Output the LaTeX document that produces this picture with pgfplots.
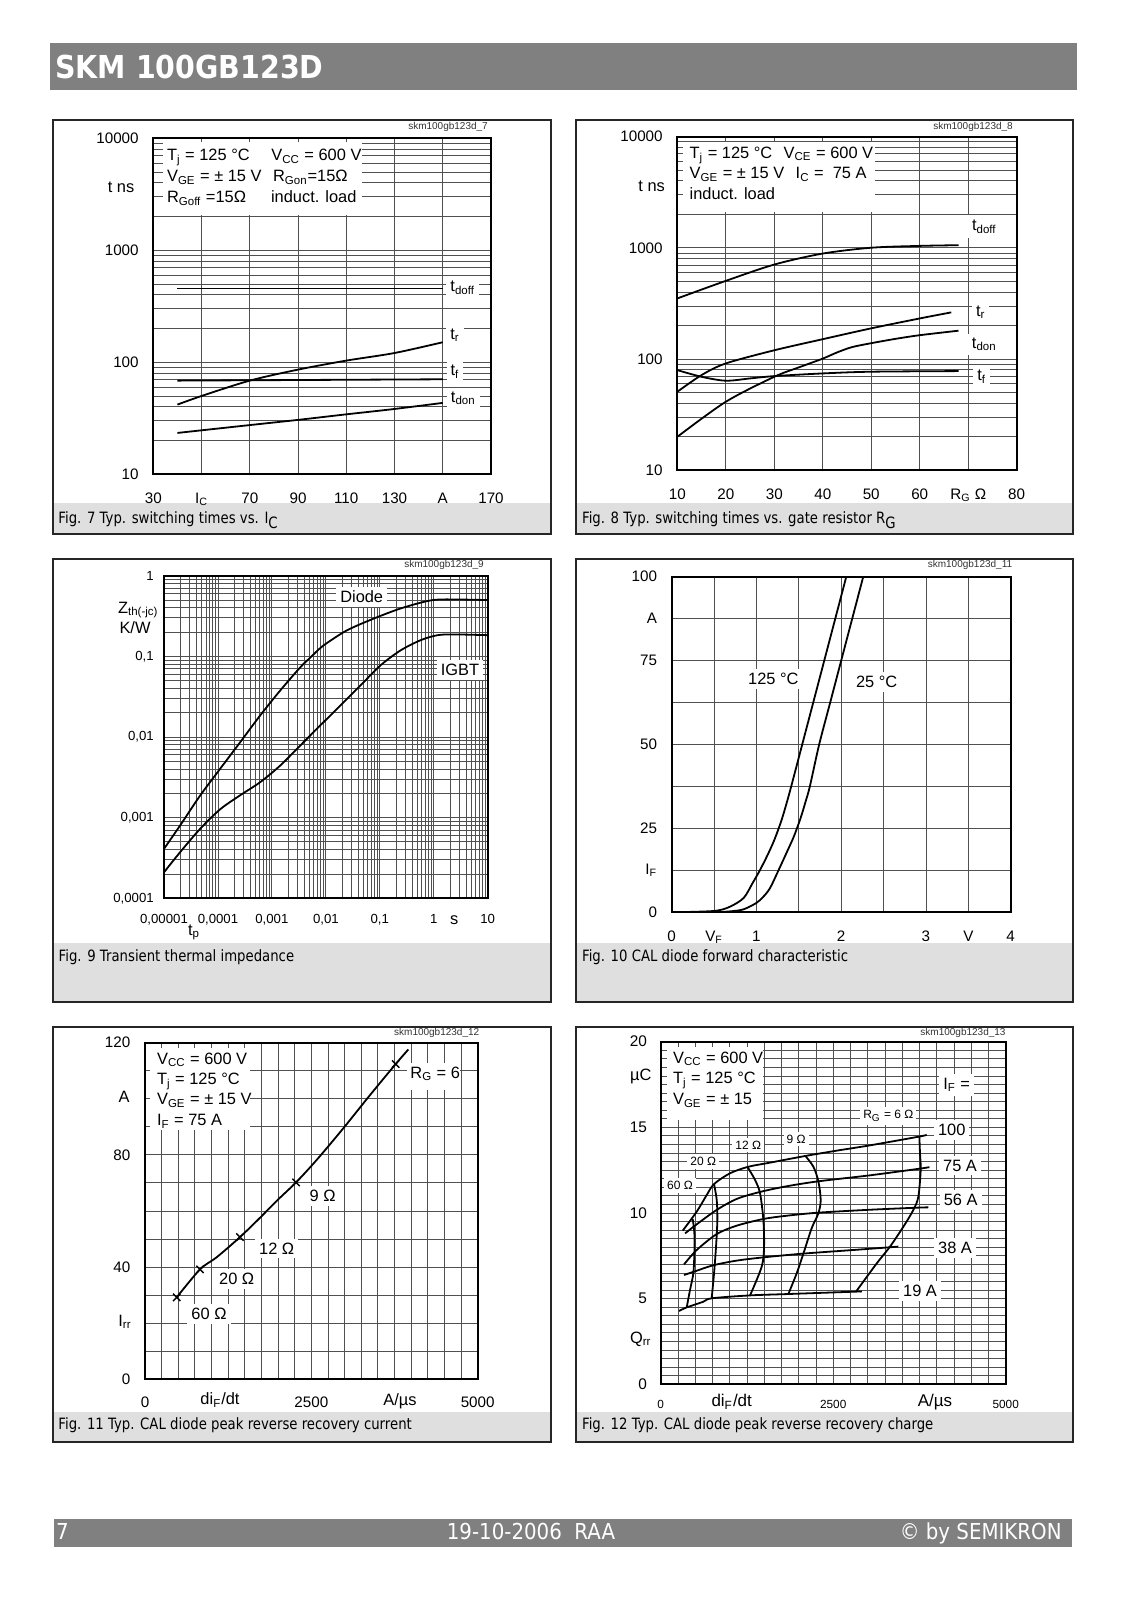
\documentclass[border=0pt]{standalone}
\usepackage{pgfplots}
\pgfplotsset{compat=1.18}
\usepackage{fontspec}
\setmainfont{Liberation Sans}
\newfontfamily\capfont[FakeStretch=0.85]{DejaVu Sans}
\newfontfamily\hdrfont[FakeStretch=0.9]{DejaVu Sans}
\definecolor{hdrgray}{RGB}{128,128,128}
\definecolor{capgray}{RGB}{223,223,223}
\definecolor{gridc}{RGB}{80,80,80}
\newcommand\sub[1]{\textsubscript{#1}}
\newcommand\ann{\fontsize{8.2}{9.8}\selectfont}
\newcommand\sml{\fontsize{6}{7}\selectfont}
\newcommand\capf{\capfont\fontsize{7.8}{9}\selectfont}
\pgfplotsset{
  ds/.style={scale only axis, anchor=south west,
    axis line style={line width=1pt, black},
    major grid style={line width=0.45pt, gridc},
    minor grid style={line width=0.45pt, gridc},
    major tick length=0pt, minor tick length=0pt,
    tick label style={font=\fontsize{7.6}{8.5}\selectfont},
  },
  cv/.style={black, line width=0.9pt, smooth, tension=0.5, mark=none},
}
\begin{document}
\begin{tikzpicture}
\path (0,0) rectangle (565.5pt,800pt);
\begin{scope}[x=0.5pt,y=-0.5pt,yshift=800pt]
 \fill[hdrgray] (50,43.3) rectangle (1077,90);
 \node[anchor=base west,inner sep=0,text=white,font=\hdrfont\bfseries\fontsize{15.8}{18}\selectfont] at (55,78.3) {SKM 100GB123D};
 \fill[hdrgray] (54,1519) rectangle (1072,1547);
 \node[anchor=base west,inner sep=0,text=white,font=\hdrfont\fontsize{11}{13}\selectfont] at (55.7,1539) {7};
 \node[anchor=base,inner sep=0,text=white,font=\hdrfont\fontsize{11}{13}\selectfont] at (531,1539) {19-10-2006\ \ RAA};
 \node[anchor=base east,inner sep=0,text=white,font=\hdrfont\fontsize{11}{13}\selectfont] at (1062,1539) {© by SEMIKRON};
 \fill[capgray] (53,503) rectangle (551,534);
 \fill[capgray] (576,503) rectangle (1073,534);
 \fill[capgray] (53,943) rectangle (551,1002);
 \fill[capgray] (576,943) rectangle (1073,1002);
 \fill[capgray] (53,1412) rectangle (551,1442);
 \fill[capgray] (576,1412) rectangle (1073,1442);
\end{scope}

% ---------------- Fig 7
\begin{axis}[ds, at={(76.65pt,562.85pt)}, width=168.85pt, height=168pt,
  xmin=30, xmax=170, ymode=log, ymin=10, ymax=10000,
  xtick={30,50,...,170}, xticklabels={30,I\sub{C},70,90,110,130,A,170},
  ytick={10,100,1000,10000}, yticklabels={10,100,1000,10000},
  minor ytick={20,30,40,50,60,70,80,90,200,300,400,500,600,700,800,900,2000,3000,4000,5000,6000,7000,8000,9000},
  xmajorgrids, ymajorgrids, yminorgrids,
  xticklabel style={yshift=-5.6pt}, yticklabel style={xshift=-3.8pt}]
\addplot[cv] coordinates {(40,455) (150,455)};
\addplot[cv] coordinates {(40,41.9)(50,50)(70,68.6)(90,86)(110,103.5)(130,121)(150,151)};
\addplot[cv] coordinates {(40,68.6)(150,70.5)};
\addplot[cv] coordinates {(40,23.4)(70,27.5)(90,30.6)(110,34.3)(130,38.3)(150,43.4)};
\end{axis}

% ---------------- Fig 8
\begin{axis}[ds, at={(338.65pt,564.85pt)}, width=169.7pt, height=166.8pt,
  xmin=10, xmax=80, ymode=log, ymin=10, ymax=10000,
  xtick={10,20,...,80}, xticklabels={10,20,30,40,50,60,R\sub{G}\ Ω,80},
  ytick={10,100,1000,10000}, yticklabels={10,100,1000,10000},
  minor ytick={20,30,40,50,60,70,80,90,200,300,400,500,600,700,800,900,2000,3000,4000,5000,6000,7000,8000,9000},
  xmajorgrids, ymajorgrids, yminorgrids,
  xticklabel style={yshift=-5.6pt}, yticklabel style={xshift=-3.8pt}]
\addplot[cv] coordinates {(10,351)(20,505)(30,708)(40,889)(50,1003)(60,1042)(68,1057)};
\addplot[cv] coordinates {(10,50.8)(15,71.8)(20,91.4)(30,120)(40,151)(50,189)(60,232)(66.5,263)};
\addplot[cv] coordinates {(10,20)(20,41.3)(30,69.3)(35,84)(40,101)(43,115)(46,128)(50,139)(55,152)(60,164)(68,180)};
\addplot[cv] coordinates {(10,79.6)(15,69.3)(20,63.9)(25,67)(30,70.3)(40,74.3)(50,77)(68,78)};
\end{axis}

% ---------------- Fig 9
\begin{axis}[ds, at={(82pt,350.85pt)}, width=161.85pt, height=161.3pt,
  xmode=log, ymode=log, xmin=1e-5, xmax=10, ymin=1e-4, ymax=1,
  xtick={1e-5,1e-4,1e-3,1e-2,1e-1,1,10}, xticklabels={{0,00001},{0,0001},{0,001},{0,01},{0,1},1,10},
  ytick={1e-4,1e-3,1e-2,1e-1,1}, yticklabels={{0,0001},{0,001},{0,01},{0,1},1},
  minor xtick={2e-5,3e-5,4e-5,5e-5,6e-5,7e-5,8e-5,9e-5,2e-4,3e-4,4e-4,5e-4,6e-4,7e-4,8e-4,9e-4,0.002,0.003,0.004,0.005,0.006,0.007,0.008,0.009,0.02,0.03,0.04,0.05,0.06,0.07,0.08,0.09,0.2,0.3,0.4,0.5,0.6,0.7,0.8,0.9,2,3,4,5,6,7,8,9},
  minor ytick={2e-4,3e-4,4e-4,5e-4,6e-4,7e-4,8e-4,9e-4,0.002,0.003,0.004,0.005,0.006,0.007,0.008,0.009,0.02,0.03,0.04,0.05,0.06,0.07,0.08,0.09,0.2,0.3,0.4,0.5,0.6,0.7,0.8,0.9},
  xmajorgrids, ymajorgrids, xminorgrids, yminorgrids,
  tick label style={font=\fontsize{6.6}{7.5}\selectfont},
  xticklabel style={yshift=-4.5pt}, yticklabel style={xshift=-1.6pt}]
\addplot[cv] coordinates {(1e-5,4.10e-4)(1.99e-5,8.0e-4)(4.68e-5,1.88e-3)(1.10e-4,4.04e-3)(2.60e-4,8.67e-3)(6.10e-4,0.0186)(1.44e-3,0.0380)(3.38e-3,0.0735)(5.2e-3,0.097)(7.5e-3,0.123)(0.0106,0.147)(0.0249,0.211)(0.0782,0.295)(0.245,0.393)(0.767,0.485)(1.57,0.508)(10,0.499)};
\addplot[cv] coordinates {(1e-5,2.10e-4)(1.99e-5,3.73e-4)(4.68e-5,7.27e-4)(1.10e-4,1.27e-3)(2.60e-4,1.90e-3)(6.10e-4,2.76e-3)(1.44e-3,4.45e-3)(3.38e-3,7.88e-3)(7.96e-3,0.0140)(0.0188,0.0247)(0.0442,0.0438)(0.104,0.0777)(0.245,0.119)(0.577,0.159)(1.18,0.183)(2.40,0.187)(10,0.183)};
\end{axis}

% ---------------- Fig 10
\begin{axis}[ds, at={(335.85pt,343.85pt)}, width=169.5pt, height=167.8pt,
  xmin=0, xmax=4, ymin=0, ymax=100,
  xtick={0,0.5,...,4}, xticklabels={0,V\sub{F},1,{},2,{},3,V,4},
  ytick={0,12.5,...,100}, yticklabels={0,I\sub{F},25,{},50,{},75,A,100},
  xmajorgrids, ymajorgrids,
  xticklabel style={yshift=-5.6pt}, yticklabel style={xshift=-3.8pt}]
\addplot[cv] coordinates {(0,0)(0.5,0.4)(0.69,1.7)(0.85,4.3)(0.95,8.5)(1.04,12.5)(1.13,17)(1.21,21.5)(1.29,27)(1.35,32)(1.41,37.5)(1.54,50)(1.67,62.5)(1.80,75)(1.93,87.5)(2.06,100)};
\addplot[cv] coordinates {(0,0)(0.5,0.05)(0.7,0.3)(0.85,0.9)(1.0,2.8)(1.08,4.6)(1.16,7.2)(1.26,12.5)(1.36,18)(1.44,22.5)(1.52,28)(1.58,33)(1.63,37.5)(1.74,50)(1.87,62.5)(2.00,75)(2.13,87.5)(2.26,100)};
\end{axis}

% ---------------- Fig 11
\begin{axis}[ds, at={(72.5pt,110.35pt)}, width=166.35pt, height=168.3pt,
  xmin=0, xmax=5000, ymin=0, ymax=120, scaled x ticks=false,
  xtick={0,2500,5000}, xticklabels={0,2500,5000}, minor x tick num=9,
  ytick={0,40,80,120}, yticklabels={0,40,80,120}, minor y tick num=3,
  xmajorgrids, ymajorgrids, xminorgrids, yminorgrids,
  xticklabel style={yshift=-5.4pt}, yticklabel style={xshift=-3.8pt}]
\addplot[cv] coordinates {(476,29.2)(827,39.2)(1077,43.5)(1428,50.7)(1729,57.6)(1979,63.6)(2270,70.2)(2580,78.2)(2981,89.5)(3381,101.3)(3768,112.4)(3958,117.6)};
\addplot[black, only marks, mark=x, mark size=2.6pt, mark options={line width=0.7pt}] coordinates {(476,29.2)(827,39.2)(1428,50.7)(2270,70.2)(3768,112.4)};
\end{axis}

% ---------------- Fig 12
\begin{axis}[ds, at={(330.35pt,107.85pt)}, width=172.5pt, height=171.3pt,
  xmin=0, xmax=5000, ymin=0, ymax=20, scaled x ticks=false,
  xtick={0,2500,5000}, xticklabels={0,2500,5000}, minor x tick num=9,
  ytick={0,5,10,15,20}, yticklabels={0,5,10,15,20}, minor y tick num=9,
  xmajorgrids, ymajorgrids, xminorgrids, yminorgrids,
  xticklabel style={yshift=-4.2pt, font=\fontsize{5.9}{7}\selectfont}, yticklabel style={xshift=-3.3pt, font=\fontsize{7.7}{8.5}\selectfont}]
\addplot[cv] coordinates {(319,8.97)(522,10.08)(667,11.05)(773,11.69)(1005,12.32)(1271,12.70)(1585,12.94)(2097,13.33)(2551,13.64)(3034,13.95)(3758,14.47)(3855,14.57)};
\addplot[cv] coordinates {(353,8.81)(522,9.34)(812,10.18)(1101,10.82)(1440,11.23)(1826,11.56)(2285,11.85)(3034,12.20)(3758,12.59)(3894,12.68)};
\addplot[cv] coordinates {(338,7.00)(522,7.84)(812,8.77)(1101,9.26)(1488,9.65)(1826,9.84)(2285,10.02)(3034,10.19)(3710,10.31)(3879,10.33)};
\addplot[cv] coordinates {(338,6.38)(522,6.63)(763,6.95)(1101,7.22)(1488,7.41)(2068,7.63)(2792,7.84)(3324,8.00)(3444,8.04)};
\addplot[cv] coordinates {(266,4.28)(377,4.49)(618,4.82)(739,5.02)(1295,5.19)(1850,5.27)(2831,5.41)(2889,5.41)};
\addplot[cv] coordinates {(464,9.65)(488,8.81)(488,7.65)(473,6.48)(425,5.51)(377,4.49)};
\addplot[cv] coordinates {(773,11.69)(812,10.76)(821,9.59)(802,8.04)(773,6.48)(739,5.02)};
\addplot[cv] coordinates {(1256,12.70)(1367,11.93)(1440,11.15)(1488,9.59)(1498,8.04)(1464,6.87)(1295,5.19)};
\addplot[cv] coordinates {(2097,13.33)(2213,12.70)(2285,11.85)(2319,10.76)(2285,9.98)(2188,9.11)(2068,7.63)(1971,6.48)(1850,5.27)};
\addplot[cv] coordinates {(3749,14.46)(3758,13.48)(3768,12.51)(3734,10.95)(3662,10.18)(3517,9.20)(3324,8.04)(3131,7.06)(2831,5.41)};
\end{axis}

\begin{scope}[x=0.5pt,y=-0.5pt,yshift=800pt]
 % panel borders
 \draw[line width=1pt,black!85] (53,120) rectangle (551,534);
 \draw[line width=1pt,black!85] (576,120) rectangle (1073,534);
 \draw[line width=1pt,black!85] (53,559) rectangle (551,1002);
 \draw[line width=1pt,black!85] (576,559) rectangle (1073,1002);
 \draw[line width=1pt,black!85] (53,1027) rectangle (551,1442);
 \draw[line width=1pt,black!85] (576,1027) rectangle (1073,1442);
 % file tags
 \node[font=\fontsize{5}{6}\selectfont,text=black!80] at (448,126.7) {skm100gb123d\_7};
 \node[font=\fontsize{5}{6}\selectfont,text=black!80] at (973,126.7) {skm100gb123d\_8};
 \node[font=\fontsize{5}{6}\selectfont,text=black!80] at (444,565) {skm100gb123d\_9};
 \node[font=\fontsize{5}{6}\selectfont,text=black!80] at (970,565) {skm100gb123d\_11};
 \node[font=\fontsize{5}{6}\selectfont,text=black!80] at (436.7,1033) {skm100gb123d\_12};
 \node[font=\fontsize{5}{6}\selectfont,text=black!80] at (963,1033) {skm100gb123d\_13};
 % captions
 \node[anchor=base west,inner sep=0,font=\capf] at (58,523.7) {Fig. 7 Typ. switching times vs. I\raisebox{-2.5pt}{C}};
 \node[anchor=base west,inner sep=0,font=\capf] at (581.7,523.7) {Fig. 8 Typ. switching times vs. gate resistor R\raisebox{-2.5pt}{G}};
 \node[anchor=base west,inner sep=0,font=\capf] at (58.3,962) {Fig. 9 Transient thermal impedance};
 \node[anchor=base west,inner sep=0,font=\capf] at (581.7,962) {Fig. 10 CAL diode forward characteristic};
 \node[anchor=base west,inner sep=0,font=\capf] at (58,1430) {Fig. 11 Typ. CAL diode peak reverse recovery current};
 \node[anchor=base west,inner sep=0,font=\capf] at (581.7,1430) {Fig. 12 Typ. CAL diode peak reverse recovery charge};

 % Fig 7 texts
 \node[font=\ann] at (121,187.7) {t ns};
 \fill[white] (163.3,141.7) rectangle (361.7,215);
 \node[anchor=base west,font=\ann,inner sep=0] at (166.7,161) {T\sub{j} = 125 °C};
 \node[anchor=base west,font=\ann,inner sep=0] at (271,161) {V\sub{CC} = 600 V};
 \node[anchor=base west,font=\ann,inner sep=0] at (166.7,181.7) {V\sub{GE} = ± 15 V};
 \node[anchor=base west,font=\ann,inner sep=0] at (272.7,181.7) {R\sub{Gon}=15Ω};
 \node[anchor=base west,font=\ann,inner sep=0] at (166.7,202.3) {R\sub{Goff} =15Ω};
 \node[anchor=base west,font=\ann,inner sep=0] at (270.7,202.3) {induct. load};
 \node[fill=white,font=\ann,inner sep=2pt] at (462.7,287.7) {t\sub{doff}};
 \node[fill=white,font=\ann,inner sep=2pt] at (455,335) {t\sub{r}};
 \node[fill=white,font=\ann,inner sep=2pt] at (455,371.7) {t\sub{f}};
 \node[fill=white,font=\ann,inner sep=2pt] at (463.3,398.3) {t\sub{don}};

 % Fig 8 texts
 \node[font=\ann] at (651.7,186.7) {t ns};
 \fill[white] (683.3,141.7) rectangle (875,211.7);
 \node[anchor=base west,font=\ann,inner sep=0] at (689.3,158.3) {T\sub{j} = 125 °C};
 \node[anchor=base west,font=\ann,inner sep=0] at (783.3,158.3) {V\sub{CE} = 600 V};
 \node[anchor=base west,font=\ann,inner sep=0] at (689.3,179) {V\sub{GE} = ± 15 V};
 \node[anchor=base west,font=\ann,inner sep=0] at (795.3,179) {I\sub{C} =\ \ 75 A};
 \node[anchor=base west,font=\ann,inner sep=0] at (689.3,200) {induct. load};
 \node[fill=white,font=\ann,inner sep=2.5pt] at (984.3,226.7) {t\sub{doff}};
 \node[fill=white,font=\ann,inner sep=2pt] at (980.7,312.3) {t\sub{r}};
 \node[fill=white,font=\ann,inner sep=2pt] at (984.3,344.3) {t\sub{don}};
 \node[fill=white,font=\ann,inner sep=2pt] at (981.7,376.7) {t\sub{f}};

 % Fig 9 texts
 \node[font=\ann] at (138.3,610) {Z\sub{th(-jc)}};
 \node[font=\ann] at (135,627.7) {K/W};
 \node[fill=white,font=\ann,inner sep=2pt] at (361.7,596.7) {Diode};
 \node[fill=white,font=\ann,inner sep=2pt] at (460,670) {IGBT};
 \node[font=\ann] at (454.3,920) {s};
 \node[font=\ann] at (194,932.3) {t\sub{p}};

 % Fig 10 texts
 \node[fill=white,font=\ann,inner sep=2pt] at (773.3,679) {125 °C};
 \node[fill=white,font=\ann,inner sep=2pt] at (876.7,682.3) {25 °C};

 % Fig 11 texts
 \fill[white] (150,1048.3) rectangle (250,1130);
 \node[anchor=base west,font=\ann,inner sep=0] at (156.7,1064.3) {V\sub{CC} = 600 V};
 \node[anchor=base west,font=\ann,inner sep=0] at (156.7,1085) {T\sub{j} = 125 °C};
 \node[anchor=base west,font=\ann,inner sep=0] at (156.7,1105) {V\sub{GE} = ± 15 V};
 \node[anchor=base west,font=\ann,inner sep=0] at (156.7,1126) {I\sub{F} = 75 A};
 \node[fill=white,font=\ann,inner sep=2pt] at (209,1314) {60 Ω};
 \node[fill=white,font=\ann,inner sep=2pt] at (236.7,1279.3) {20 Ω};
 \node[fill=white,font=\ann,inner sep=2pt] at (276.7,1248.3) {12 Ω};
 \node[fill=white,font=\ann,inner sep=2pt] at (322.7,1196) {9 Ω};
 \fill[white] (406.7,1063) rectangle (460,1090);
 \node[anchor=west,font=\ann,inner sep=0] at (410,1074) {R\sub{G} = 6};
 \node[font=\ann] at (125,1321.7) {I\sub{rr}};
 \node[font=\ann] at (124,1097.3) {A};
 \node[font=\ann] at (220,1400) {di\sub{F}/dt};
 \node[font=\ann] at (400,1401) {A/µs};

 % Fig 12 texts
 \fill[white] (666.7,1046.7) rectangle (763.3,1120);
 \node[anchor=base west,font=\ann,inner sep=0] at (672.7,1063.3) {V\sub{CC} = 600 V};
 \node[anchor=base west,font=\ann,inner sep=0] at (672.7,1084) {T\sub{j} = 125 °C};
 \node[anchor=base west,font=\ann,inner sep=0] at (672.7,1105) {V\sub{GE} = ± 15};
 \node[fill=white,font=\ann,inner sep=2pt] at (956.7,1085) {I\sub{F} =};
 \node[fill=white,font=\sml,inner sep=1.5pt] at (888.3,1116) {R\sub{G} = 6 Ω};
 \node[fill=white,font=\ann,inner sep=2pt] at (951.7,1130) {100};
 \node[fill=white,font=\ann,inner sep=2pt] at (960,1165.7) {75 A};
 \node[fill=white,font=\ann,inner sep=2pt] at (960.7,1200) {56 A};
 \node[fill=white,font=\ann,inner sep=2pt] at (955,1248.3) {38 A};
 \node[fill=white,font=\ann,inner sep=2pt] at (920,1291) {19 A};
 \node[fill=white,font=\sml,inner sep=1.5pt] at (796,1139) {9 Ω};
 \node[fill=white,font=\sml,inner sep=1.5pt] at (748.3,1145) {12 Ω};
 \node[fill=white,font=\sml,inner sep=1.5pt] at (703.3,1161.7) {20 Ω};
 \node[fill=white,font=\sml,inner sep=1.5pt] at (680,1185.7) {60 Ω};
 \node[font=\ann] at (640.7,1076.7) {µC};
 \node[font=\ann] at (640.7,1339.3) {Q\sub{rr}};
 \node[font=\fontsize{8.5}{10}\selectfont] at (731.7,1401.7) {di\sub{F}/dt};
 \node[font=\fontsize{8.5}{10}\selectfont] at (935,1401.7) {A/µs};
\end{scope}
\end{tikzpicture}
\end{document}
